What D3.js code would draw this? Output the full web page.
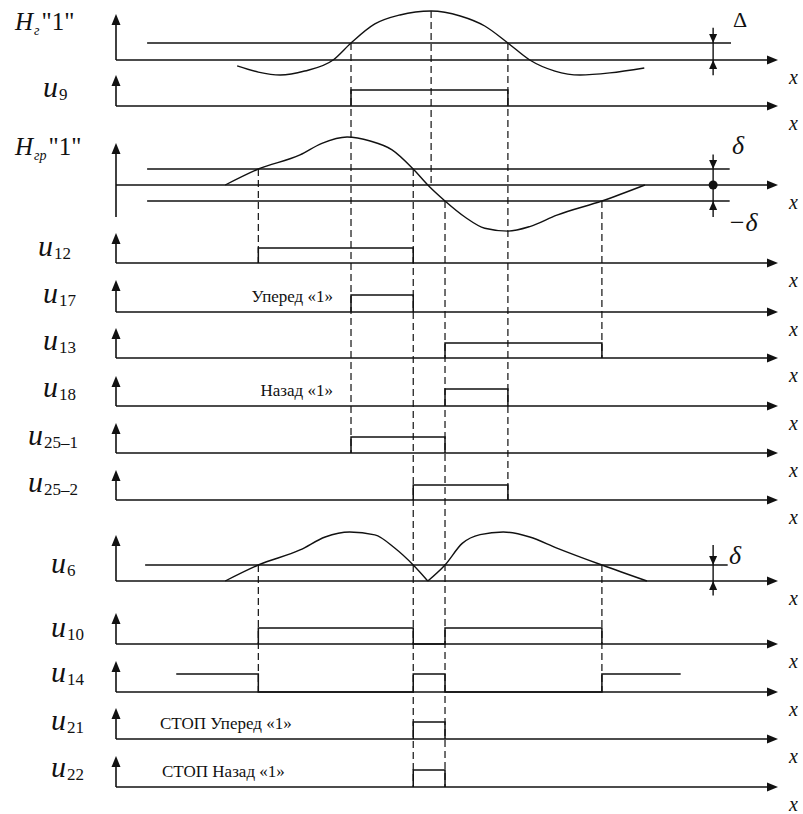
<!DOCTYPE html>
<html><head><meta charset="utf-8">
<script src="https://cdn.jsdelivr.net/npm/d3@7"></script>
<style>html,body{margin:0;background:#fff}</style>
</head><body><svg id="c" width="803" height="814"></svg>
<script>
// ---------- DATA (x in relative units 0..100 along the x axis; y in signal units) ----------
const rowKeys = ["Hg","u9","Hgr","u12","u17","u13","u18","u25_1","u25_2","u6","u10","u14","u21","u22"];
const rowLabels = [
  {main:"H", sub:"г", tail:"\"1\""},
  {main:"u", sub:"9"},
  {main:"H", sub:"гр", tail:"\"1\""},
  {main:"u", sub:"12"},
  {main:"u", sub:"17"},
  {main:"u", sub:"13"},
  {main:"u", sub:"18"},
  {main:"u", sub:"25–1"},
  {main:"u", sub:"25–2"},
  {main:"u", sub:"6"},
  {main:"u", sub:"10"},
  {main:"u", sub:"14"},
  {main:"u", sub:"21"},
  {main:"u", sub:"22"}
];
// analog signals
const hgCurve = [[18.3,-0.35],[21.5,-0.71],[24.8,-0.88],[28.5,-0.65],[32.8,0],[35.5,1],[39.1,2.12],[42.9,2.65],[47.6,2.88],[52.0,2.59],[55.7,2.0],[59.2,1],[62.5,0],[66.3,-0.65],[70.1,-0.88],[74.6,-0.76],[79.8,-0.47]];
const hgrCurve = [[16.5,0],[21.5,1],[27.8,1.88],[31.1,2.6],[34.9,3.0],[38.4,2.75],[41.7,2.2],[44.9,1],[47.1,0],[49.7,-1],[52.7,-2.0],[55.7,-2.7],[59.2,-2.88],[62.5,-2.6],[66.6,-1.88],[73.4,-1],[79.9,0]];
const u6HumpA = [[16.5,0],[21.5,1],[27.8,1.94],[31.6,2.75],[35.3,3.06],[39.1,2.88],[42.1,2.06],[44.9,1],[47.1,0]];
const u6HumpB = [[47.1,0],[49.7,1],[52.3,2.35],[55.0,2.9],[58.5,3.06],[62.5,2.75],[66.6,2.06],[73.4,1],[80.2,0]];
// thresholds  [value, from, to]
const thresholds = {Hg:[[1,4.7,92.9]], Hgr:[[1,4.7,92.7],[-1,4.7,92.7]], u6:[[1,4.4,92.4]]};
// digital signals: waveform corners [x, level]
const u9  = [[35.5,0],[35.5,1],[59.2,1],[59.2,0]];
const u12 = [[21.5,0],[21.5,1],[44.9,1],[44.9,0]];
const u17 = [[35.5,0],[35.5,1],[44.9,1],[44.9,0]];
const u13 = [[49.7,0],[49.7,1],[73.4,1],[73.4,0]];
const u18 = [[49.7,0],[49.7,1],[59.2,1],[59.2,0]];
const u25_1 = [[35.5,0],[35.5,1],[49.7,1],[49.7,0]];
const u25_2 = [[44.9,0],[44.9,1],[59.2,1],[59.2,0]];
const u10 = [[21.5,0],[21.5,1],[44.9,1],[44.9,0],[49.7,0],[49.7,1],[73.4,1],[73.4,0]];
const u14 = [[9.1,1],[21.5,1],[21.5,0],[44.9,0],[44.9,1],[49.7,1],[49.7,0],[73.4,0],[73.4,1],[85.3,1]];
const u21 = [[44.9,0],[44.9,1],[49.7,1],[49.7,0]];
const u22 = [[44.9,0],[44.9,1],[49.7,1],[49.7,0]];
const digital = {u9,u12,u17,u13,u18,u25_1,u25_2,u10,u14,u21,u22};
// dashed projection lines: [x, fromRow, fromValue, toRow, toValue]
const dashes = [
  [35.5,"Hg",1,"u25_1",0],
  [47.6,"Hg",2.88,"Hgr",0],
  [59.2,"Hg",1,"u25_2",0],
  [21.5,"Hgr",1,"u12",0],
  [44.9,"Hgr",1,"u22",0],
  [49.7,"Hgr",-1,"u22",0],
  [73.4,"Hgr",-1,"u13",0],
  [21.5,"u6",1,"u14",0],
  [73.4,"u6",1,"u14",0]
];
const notes = [
  {row:"u17", text:"Уперед «1»"},
  {row:"u18", text:"Назад «1»"},
  {row:"u21", text:"СТОП Уперед «1»"},
  {row:"u22", text:"СТОП Назад «1»"}
];

// ---------- LAYOUT ----------
const layout = {
  Hg:{base:60,unit:17,top:14,lx:15,ly:30},
  u9:{base:106,unit:16,top:75,lx:43,ly:97},
  Hgr:{base:185,unit:16,top:143,bottom:217,lx:15,ly:155},
  u12:{base:263,unit:15,top:233,lx:38,ly:256},
  u17:{base:312,unit:17,top:280,lx:43,ly:303},
  u13:{base:358,unit:15,top:328,lx:43,ly:350},
  u18:{base:406,unit:17,top:376,lx:43,ly:397},
  u25_1:{base:453,unit:16,top:423,lx:28,ly:445},
  u25_2:{base:500,unit:15,top:470,lx:28,ly:492},
  u6:{base:581,unit:16,top:535,lx:51,ly:573},
  u10:{base:644,unit:16,top:613,lx:51,ly:637},
  u14:{base:692,unit:18,top:661,lx:51,ly:682},
  u21:{base:739,unit:17,top:708,lx:51,ly:730},
  u22:{base:787,unit:17,top:756,lx:51,ly:777}
};
const noteLayout = {u17:{x:333,a:"end"},u18:{x:333,a:"end"},u21:{x:160,a:"start"},u22:{x:162,a:"start"}};
const INK = "#111";
const X = d3.scaleLinear().domain([0,100]).range([116,778]);
const Y = {};
rowKeys.forEach(k=>{const L=layout[k]; Y[k]=d3.scaleLinear().domain([0,1]).range([L.base,L.base-L.unit]);});

const svg = d3.select("#c");
const serif = "'Liberation Serif','Times New Roman',serif";

// axes
rowKeys.forEach(k=>{
  const L = layout[k], y = L.base;
  const g = svg.append("g");
  g.append("line").attr("x1",X(0)).attr("x2",X(100)-9).attr("y1",y).attr("y2",y)
    .attr("stroke",INK).attr("stroke-width",1.6);
  g.append("path").attr("d",`M${X(100)},${y} L${X(100)-11},${y-4.5} L${X(100)-11},${y+4.5} Z`).attr("fill",INK);
  g.append("line").attr("x1",X(0)).attr("x2",X(0)).attr("y1",L.bottom||y).attr("y2",L.top+8)
    .attr("stroke",INK).attr("stroke-width",1.6);
  g.append("path").attr("d",`M${X(0)},${L.top} L${X(0)-4.5},${L.top+11} L${X(0)+4.5},${L.top+11} Z`).attr("fill",INK);
  g.append("text").attr("x",789).attr("y",y+24).attr("font-family",serif).attr("font-style","italic")
    .attr("font-size",20).attr("fill",INK).text("x");
  // label
  const lab = rowLabels[rowKeys.indexOf(k)];
  const t = g.append("text").attr("x",L.lx).attr("y",L.ly).attr("font-family",serif).attr("fill",INK);
  if (lab.tail) {
    t.append("tspan").attr("font-style","italic").attr("font-size",25).text(lab.main);
    t.append("tspan").attr("font-style","italic").attr("font-size",14).attr("dy",5).attr("dx",1).text(lab.sub);
    t.append("tspan").attr("font-size",25).attr("dy",-5).attr("dx",2).text(lab.tail);
  } else {
    t.append("tspan").attr("font-style","italic").attr("font-size",30).text(lab.main);
    t.append("tspan").attr("font-size",17).attr("dy",3).attr("dx",1).text(lab.sub);
  }
});

// thresholds
Object.entries(thresholds).forEach(([k,list])=>{
  list.forEach(([v,a,b])=>{
    svg.append("line").attr("x1",X(a)).attr("x2",X(b)).attr("y1",Y[k](v)).attr("y2",Y[k](v))
      .attr("stroke",INK).attr("stroke-width",1.4);
  });
});

// dashed projections
dashes.forEach(([x,r1,v1,r2,v2])=>{
  svg.append("line").attr("x1",X(x)).attr("x2",X(x)).attr("y1",Y[r1](v1)).attr("y2",Y[r2](v2))
    .attr("stroke",INK).attr("stroke-width",1.2).attr("stroke-dasharray","7,4");
});

// analog curves
function curve(k,data){
  const line = d3.line().x(d=>X(d[0])).y(d=>Y[k](d[1])).curve(d3.curveMonotoneX);
  svg.append("path").attr("d",line(data)).attr("fill","none").attr("stroke",INK).attr("stroke-width",1.4);
}
curve("Hg",hgCurve);
curve("Hgr",hgrCurve);
curve("u6",u6HumpA);
curve("u6",u6HumpB);

// digital
Object.entries(digital).forEach(([k,data])=>{
  const line = d3.line().x(d=>X(d[0])).y(d=>Y[k](d[1]));
  svg.append("path").attr("d",line(data)).attr("fill","none").attr("stroke",INK).attr("stroke-width",1.5);
});

// level markers (Δ, δ)
function marker(k, vTop, vBot, tips, dot){
  const xm = X(90.2);
  svg.append("line").attr("x1",xm).attr("x2",xm).attr("y1",Y[k](vTop)).attr("y2",Y[k](vBot))
    .attr("stroke",INK).attr("stroke-width",1.4);
  tips.forEach(([v,dir])=>{
    const y = Y[k](v);
    const d = dir==="down" ? `M${xm},${y} L${xm-4},${y-9} L${xm+4},${y-9} Z` : `M${xm},${y} L${xm-4},${y+9} L${xm+4},${y+9} Z`;
    svg.append("path").attr("d",d).attr("fill",INK);
  });
  if (dot) svg.append("circle").attr("cx",xm).attr("cy",Y[k](0)).attr("r",4.5).attr("fill",INK);
}
marker("Hg",1.9,-0.9,[[1,"down"],[0,"up"]]);
marker("Hgr",1.9,-2.0,[[1,"down"],[-1,"up"]],true);
marker("u6",2.25,-0.9,[[1,"down"],[0,"up"]]);

svg.append("text").attr("x",733).attr("y",27).attr("font-family",serif).attr("font-size",22).attr("fill",INK).text("Δ");
svg.append("text").attr("x",732).attr("y",154).attr("font-family",serif).attr("font-style","italic").attr("font-size",26).attr("fill",INK).text("δ");
svg.append("text").attr("x",728).attr("y",231).attr("font-family",serif).attr("font-style","italic").attr("font-size",26).attr("fill",INK).text("−δ");
svg.append("text").attr("x",729).attr("y",564).attr("font-family",serif).attr("font-style","italic").attr("font-size",26).attr("fill",INK).text("δ");

// notes
notes.forEach(n=>{
  const L = noteLayout[n.row];
  svg.append("text").attr("x",L.x).attr("y",layout[n.row].base-10).attr("text-anchor",L.a)
    .attr("font-family",serif).attr("font-size",17).attr("fill",INK).text(n.text);
});
</script>
</body></html>
